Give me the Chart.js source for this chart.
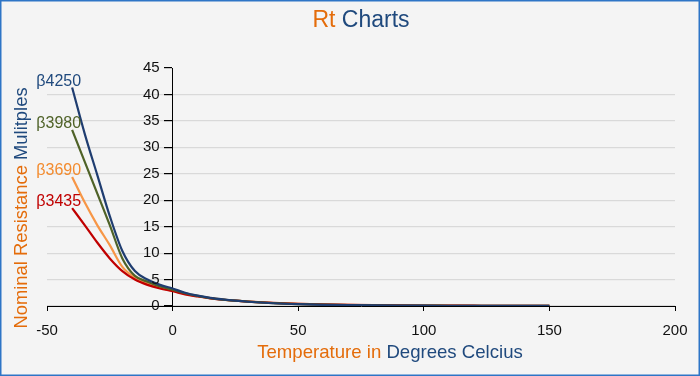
<!DOCTYPE html>
<html>
<head>
<meta charset="utf-8">
<script src="https://cdn.jsdelivr.net/npm/chart.js@4.4.1/dist/chart.umd.min.js"></script>
<style>
html,body{margin:0;padding:0;background:#F4F4F4;}
#wrap{width:700px;height:376px;position:relative;}
canvas{display:block;}
</style>
</head>
<body>
<div id="wrap"><canvas id="c" width="700" height="376"></canvas></div>
<script>
const temps = [-40,-35,-30,-25,-20,-15,-10,-5,0,5,10,15,20,25,30,40,50,60,70,80,90,100,110,120,130,140,150];
const beta4250 = [41.3,32.6,24.8,17.0,10.4,6.6,5.0,4.0,3.3,2.5,1.95,1.55,1.25,1.0,0.8,0.52,0.34,0.23,0.16,0.11,0.08,0.06,0.045,0.035,0.027,0.021,0.017];
const beta3980 = [33.3,27.3,21.3,15.3,9.0,5.7,4.6,3.7,3.1,2.4,1.9,1.5,1.22,1.0,0.81,0.54,0.36,0.25,0.17,0.12,0.09,0.065,0.05,0.038,0.03,0.024,0.019];
const beta3690 = [24.4,19.6,15.3,11.5,7.4,5.4,4.3,3.4,2.9,2.3,1.85,1.48,1.2,1.0,0.83,0.57,0.39,0.28,0.2,0.14,0.1,0.075,0.058,0.045,0.035,0.028,0.023];
const beta3435 = [18.5,15.3,12.0,9.0,6.6,5.0,4.0,3.3,2.8,2.2,1.8,1.45,1.18,1.0,0.84,0.6,0.42,0.3,0.22,0.16,0.12,0.09,0.07,0.055,0.044,0.036,0.03];
const seriesNames = ['β4250','β3980','β3435','β3690'];
const xTicks = [-50,0,50,100,150,200];
const yTicks = [0,5,10,15,20,25,30,35,40,45];

const lineColors = ['#1F3D70','#4F6228','#C00000','#F79646'];
const labelColors = ['#1F497D','#4F6228','#C00000','#F38B2E'];
const seriesValues = [beta4250, beta3980, beta3435, beta3690];

function pts(vals){ return temps.map((t,i)=>({x:t,y:vals[i]})); }

const FONT = "'Liberation Sans', Arial, sans-serif";

const decor = {
  id:'decor',
  beforeDraw(chart){
    const ctx = chart.ctx;
    ctx.save();
    ctx.fillStyle = '#F4F4F4';
    ctx.fillRect(0,0,chart.width,chart.height);
    ctx.restore();
  },
  afterDraw(chart){
    const ctx = chart.ctx;
    const ca = chart.chartArea;
    const xs = chart.scales.x, ys = chart.scales.y;
    ctx.save();
    // border
    ctx.strokeStyle = '#2E75C6';
    ctx.lineWidth = 1.5;
    ctx.strokeRect(0.75,0.75,chart.width-1.5,chart.height-1.5);
    // y tick labels, left of the y axis at x = 0
    ctx.font = "15px "+FONT;
    ctx.fillStyle = '#111';
    ctx.textAlign = 'right';
    ctx.textBaseline = 'middle';
    const ax = xs.getPixelForValue(0);
    yTicks.forEach(v=>{ ctx.fillText(String(v), ax-13, ys.getPixelForValue(v)); });
    // multicolor text helper
    function multi(parts, cx, cy, font){
      ctx.font = font;
      ctx.textBaseline = 'middle';
      ctx.textAlign = 'left';
      const w = parts.reduce((s,p)=>s+ctx.measureText(p[0]).width,0);
      let x = cx - w/2;
      parts.forEach(p=>{ ctx.fillStyle = p[1]; ctx.fillText(p[0], x, cy); x += ctx.measureText(p[0]).width; });
    }
    // title
    multi([['Rt ','#E46C0A'],['Charts','#1F497D']], (ca.left+ca.right)/2, 21, "23px "+FONT);
    // x axis title
    multi([['Temperature in ','#E46C0A'],['Degrees Celcius','#1F497D']], 390, 353, "18.6px "+FONT);
    // y axis title
    ctx.save();
    ctx.translate(22, 208);
    ctx.rotate(-Math.PI/2);
    multi([['Nominal Resistance ','#E46C0A'],['Mulitples','#1F497D']], 0, 0, "18.4px "+FONT);
    ctx.restore();
    // series labels at first point
    ctx.font = "16px "+FONT;
    ctx.textAlign = 'right';
    ctx.textBaseline = 'alphabetic';
    chart.data.datasets.forEach((ds,i)=>{
      const p = ds.data[0];
      const px = xs.getPixelForValue(p.x);
      const py = ys.getPixelForValue(p.y);
      ctx.fillStyle = labelColors[i];
      ctx.fillText(seriesNames[i], px+9, py-2);
    });
    ctx.restore();
  }
};

new Chart(document.getElementById('c'), {
  type:'line',
  data:{
    datasets: seriesValues.map((v,i)=>({
      label: seriesNames[i],
      data: pts(v),
      borderColor: lineColors[i],
      borderWidth: 2.2,
      pointRadius: 0,
      fill:false,
      cubicInterpolationMode:'monotone'
    }))
  },
  options:{
    responsive:false,
    animation:false,
    layout:{padding:{left:47,right:25,top:68,bottom:0}},
    plugins:{legend:{display:false},tooltip:{enabled:false},title:{display:false}},
    scales:{
      x:{
        type:'linear', min:-50, max:200,
        afterBuildTicks(s){ s.ticks = xTicks.map(v=>({value:v})); },
        afterFit(s){ s.height = 70; },
        grid:{drawOnChartArea:false, drawTicks:true, tickLength:5, tickColor:'#000'},
        border:{display:true,color:'#000',width:1},
        ticks:{color:'#111', font:{family:FONT,size:15}, padding:11, maxRotation:0}
      },
      y:{
        type:'linear', min:0, max:45,
        position:{x:0},
        afterBuildTicks(s){ s.ticks = yTicks.map(v=>({value:v})); },
        grid:{color:(c)=> (c.tick && c.tick.value===45) ? 'rgba(0,0,0,0)' : '#D9D9D9', lineWidth:1.2, drawTicks:true, tickLength:8, tickColor:'#000'},
        border:{display:true,color:'#000',width:1},
        ticks:{display:false}
      }
    }
  },
  plugins:[decor]
});
</script>
</body>
</html>
